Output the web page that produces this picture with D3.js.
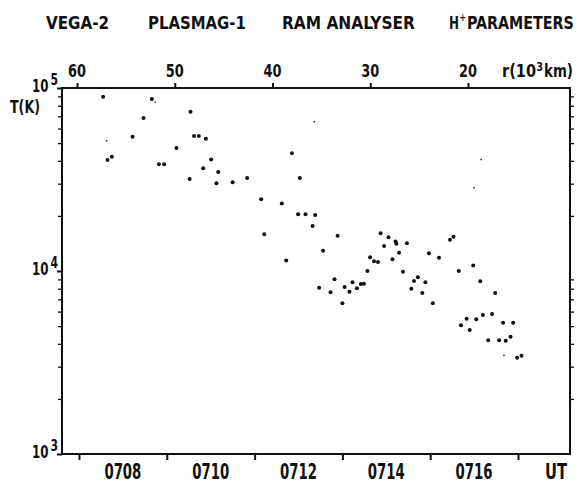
<!DOCTYPE html>
<html>
<head>
<meta charset="utf-8">
<script src="https://cdn.jsdelivr.net/npm/d3@7"></script>
<style>
  html, body { margin: 0; padding: 0; background: #fff; }
  svg { display: block; }
  text { font-family: "DejaVu Sans Condensed", "Liberation Sans Narrow", sans-serif; font-weight: bold; fill: #111; }
</style>
</head>
<body>
<svg id="chart" width="578" height="483"></svg>
<script>
// ---- data (UT minutes after 07:00, proton temperature in K) ----
const utMinutes = [
  7.55, 8.66, 9.54, 8.47, 8.22, 9.62, 9.73, 9.89, 9.22, 11.85,
  7.65, 7.75, 10.01, 8.82, 8.94, 9.83, 10.17, 9.52, 10.13, 10.50,
  10.83, 12.03, 11.15, 11.62, 11.99, 12.16, 12.38, 12.32, 11.22, 11.72,
  12.47, 12.89, 12.56, 13.87, 14.05, 14.21, 14.23, 14.47, 13.95, 14.29,
  13.63, 13.72, 13.81, 14.14, 13.57, 14.38, 14.72, 14.97, 15.20, 15.45,
  15.53, 15.98, 15.65, 12.82, 12.73, 13.00, 13.05, 13.16, 13.23, 13.33,
  13.42, 13.49, 14.57, 14.63, 14.82, 14.89, 15.06, 16.14, 16.48, 15.70,
  15.83, 15.90, 16.05, 16.20, 16.41, 16.32, 16.57, 16.66, 16.72, 16.83,
  16.89, 16.98, 17.08
];
const tempK = [
  89600, 87100, 74200, 68500, 54200, 54700, 54700, 52800, 47000, 44000,
  40400, 42100, 40700, 38300, 38300, 36400, 34700, 31800, 30200, 30500,
  32200, 32200, 24700, 23400, 20400, 20400, 20200, 17600, 15900, 11400,
  8100, 15600, 12900, 16100, 15300, 14500, 14100, 14200, 13700, 12600,
  11900, 11300, 11200, 11600, 10000, 9900, 9240, 12500, 11800, 14800,
  15400, 10700, 10000, 9000, 7650, 6670, 8180, 7710, 8680, 8040,
  8490, 8530, 8000, 8810, 7580, 8680, 6670, 8790, 7580, 5050,
  5490, 4760, 5450, 5750, 5820, 4180, 4180, 5210, 4160, 4370,
  5210, 3360, 3440
];
// faint (small) dots
const faintMinutes = [12.36, 7.63, 8.74, 16.16, 16.00, 16.68];
const faintTempK   = [65500, 51500, 83800, 40700, 28500, 3460];

const utLabelMinutes = [8, 10, 12, 14, 16];
const utTickMinutes  = [7, 9, 11, 13, 15, 17];
const rLabels = [60, 50, 40, 30, 20];
const decades = [1e3, 1e4, 1e5];
const titleParts = ["VEGA-2", "PLASMAG-1", "RAM ANALYSER"];

// ---- layout ----
const L = 62, R = 570, T = 88, B = 454;
const svg = d3.select("#chart");

const x = d3.scaleLinear().domain([6.613, 18.184]).range([L, R]);
const y = d3.scaleLog().domain([1e3, 1e5]).range([B, T]);
const xr = d3.scaleLinear().domain([60, 20]).range([77, 468]);

// text squeezed horizontally to a given width (condensed lettering)
function fitText(px, py, str, size, width, anchor) {
  const g = svg.append("g");
  const t = g.append("text").attr("font-size", size).text(str);
  const w = t.node().getComputedTextLength();
  const sx = width / w;
  let x0 = px;
  if (anchor === "middle") x0 = px - width / 2;
  g.attr("transform", `translate(${x0},${py}) scale(${sx},1)`);
  return g;
}

// ---- title ----
const titleX = [46, 148, 282], titleW = [63, 98, 133];
titleParts.forEach((t, i) => fitText(titleX[i], 29, t, 17, titleW[i]));
fitText(449, 29, "H", 17, 10);
fitText(459.5, 21, "+", 11, 6.5);
fitText(467, 29, "PARAMETERS", 17, 107);

// ---- frame ----
svg.append("rect").attr("x", L).attr("y", T).attr("width", R - L).attr("height", B - T)
  .attr("fill", "none").attr("stroke", "#111").attr("stroke-width", 2);

// ---- left/right log axes (outward minor ticks) ----
const minor = [];
[1e3, 1e4].forEach(d => { for (let k = 2; k <= 9; k++) minor.push(d * k); });
const gl = svg.append("g").attr("transform", `translate(${L},0)`)
  .call(d3.axisLeft(y).tickValues(minor).tickSize(4).tickFormat(""));
const gr = svg.append("g").attr("transform", `translate(${R},0)`)
  .call(d3.axisRight(y).tickValues(minor).tickSize(4).tickFormat(""));
[gl, gr].forEach(g => {
  g.select(".domain").remove();
  g.selectAll(".tick line").attr("stroke", "#111").attr("stroke-width", 1.3);
});
const gmaj = svg.append("g").attr("transform", `translate(${L},0)`)
  .call(d3.axisLeft(y).tickValues(decades).tickSize(5).tickFormat(""));
gmaj.select(".domain").remove();
gmaj.selectAll(".tick line").attr("stroke", "#111").attr("stroke-width", 2);

// decade labels
decades.forEach(d => {
  const e = Math.round(Math.log10(d));
  fitText(32, y(d) + 4, "10", 18, 16.5);
  fitText(50.5, y(d) - 3, String(e), 15, 7.5);
});
fitText(10, 113, "T(K)", 17, 30);

// ---- bottom UT axis ----
const gb = svg.append("g").attr("transform", `translate(0,${B})`)
  .call(d3.axisBottom(x).tickValues(utTickMinutes).tickSize(6).tickFormat(""));
gb.select(".domain").remove();
gb.selectAll(".tick line").attr("stroke", "#111").attr("stroke-width", 2);
utLabelMinutes.forEach(m => {
  fitText(x(m), 479, "07" + String(m).padStart(2, "0"), 21, 37, "middle");
});
fitText(545, 479, "UT", 21, 22);

// ---- top r axis ----
const gt = svg.append("g").attr("transform", `translate(0,${T})`)
  .call(d3.axisTop(xr).tickValues(rLabels).tickSize(5).tickFormat(""));
gt.select(".domain").remove();
gt.selectAll(".tick line").attr("stroke", "#111").attr("stroke-width", 2);
rLabels.forEach(r => fitText(xr(r), 77, String(r), 18, 18, "middle"));
fitText(502, 77, "r(10", 17, 34);
fitText(536.5, 71, "3", 12, 6.5);
fitText(544, 77, "km)", 17, 29);

// ---- data points ----
const pts = utMinutes.map((m, i) => ({ m, t: tempK[i] }));
svg.append("g").selectAll("circle").data(pts).join("circle")
  .attr("cx", d => x(d.m)).attr("cy", d => y(d.t)).attr("r", 2).attr("fill", "#111");
const faint = faintMinutes.map((m, i) => ({ m, t: faintTempK[i] }));
svg.append("g").selectAll("circle").data(faint).join("circle")
  .attr("cx", d => x(d.m)).attr("cy", d => y(d.t)).attr("r", 0.9).attr("fill", "#333");
</script>
</body>
</html>
